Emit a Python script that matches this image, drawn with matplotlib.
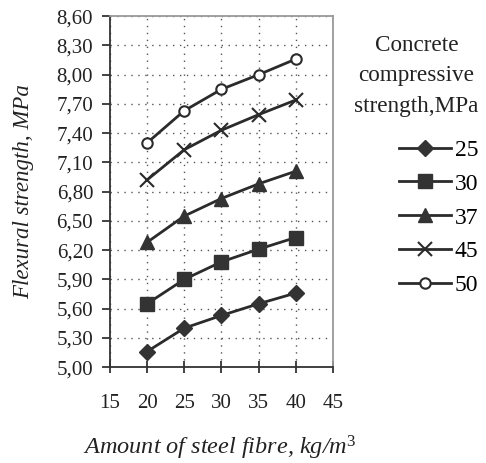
import matplotlib
matplotlib.use("Agg")
import matplotlib.pyplot as plt

plt.rcParams['font.family'] = ['Liberation Serif', 'DejaVu Serif']
plt.rcParams['mathtext.fontset'] = 'custom'
plt.rcParams['mathtext.rm'] = 'Liberation Serif'
plt.rcParams['mathtext.it'] = 'Liberation Serif:italic'

fibre = [20, 25, 30, 35, 40]
s25 = [5.16, 5.40, 5.53, 5.65, 5.76]
s30 = [5.65, 5.90, 6.08, 6.21, 6.33]
s37 = [6.28, 6.55, 6.73, 6.88, 7.01]
s45 = [6.92, 7.23, 7.43, 7.59, 7.74]
s50 = [7.30, 7.63, 7.85, 8.00, 8.16]
labels = ['25', '30', '37', '45', '50']
xticks = [15, 20, 25, 30, 35, 40, 45]
yticks = [5.00, 5.30, 5.60, 5.90, 6.20, 6.50, 6.80, 7.10, 7.40, 7.70, 8.00, 8.30, 8.60]

series = [s25, s30, s37, s45, s50]
markers = ['D', 's', '^', 'x', 'o']
msizes = [8, 10, 10, 10, 7.5]

fig = plt.figure(figsize=(4.86, 4.63), dpi=100)
ax = fig.add_axes([0.226, 0.207, 0.459, 0.758])

dark = '#2b2b2b'
handles = []
for vals, lab, m, ms in zip(series, labels, markers, msizes):
    if m == 'o':
        h, = ax.plot(fibre, vals, color=dark, lw=2, marker=m, ms=ms,
                     mfc='white', mec=dark, mew=1.5, label=lab)
    elif m == 'x':
        h, = ax.plot(fibre, vals, color=dark, lw=2, marker=m, ms=ms,
                     mec=dark, mew=1.5, label=lab)
    else:
        h, = ax.plot(fibre, vals, color=dark, lw=2, marker=m, ms=ms,
                     mfc='#333333', mec='#333333', label=lab)
    handles.append(h)

ax.set_xlim(15, 45)
ax.set_ylim(5.0, 8.6)
ax.set_xticks(xticks)
ax.set_yticks(yticks)
ax.set_xticklabels([str(t) for t in xticks])
ax.set_yticklabels([f"{v:.2f}".replace('.', ',') for v in yticks])
ax.tick_params(axis='both', labelsize=15, colors='#222222', width=1.2)
ax.tick_params(axis='x', direction='inout', length=9, pad=15)
ax.tick_params(axis='y', direction='out', length=6, pad=6)
ax.grid(True, linestyle=(0, (1, 4)), color='#555555', lw=1)

for s in ['left', 'bottom']:
    ax.spines[s].set_color('#333333')
    ax.spines[s].set_linewidth(1.3)
for s in ['top', 'right']:
    ax.spines[s].set_color('#999999')
    ax.spines[s].set_linewidth(1.3)

ax.set_xlabel('Amount of steel fibre, kg/m$^3$', fontsize=17.5, style='italic',
              color='#222222')
ax.xaxis.set_label_coords(0.49, -0.19)
ax.set_ylabel('Flexural strength, MPa', fontsize=16.5, style='italic',
              color='#222222')
ax.yaxis.set_label_coords(-0.34, 0.5)

fig.text(0.857, 0.836, 'Concrete\ncompressive\nstrength,MPa', ha='center', va='center',
         fontsize=16.7, linespacing=1.6, color='#222222')
fig.legend(handles=handles, loc='upper left', bbox_to_anchor=(0.822, 0.699),
           frameon=False, fontsize=17, handlelength=2.2, handletextpad=0.15,
           labelspacing=0.52, borderpad=0, borderaxespad=0)

fig.savefig('out.png', dpi=100)
